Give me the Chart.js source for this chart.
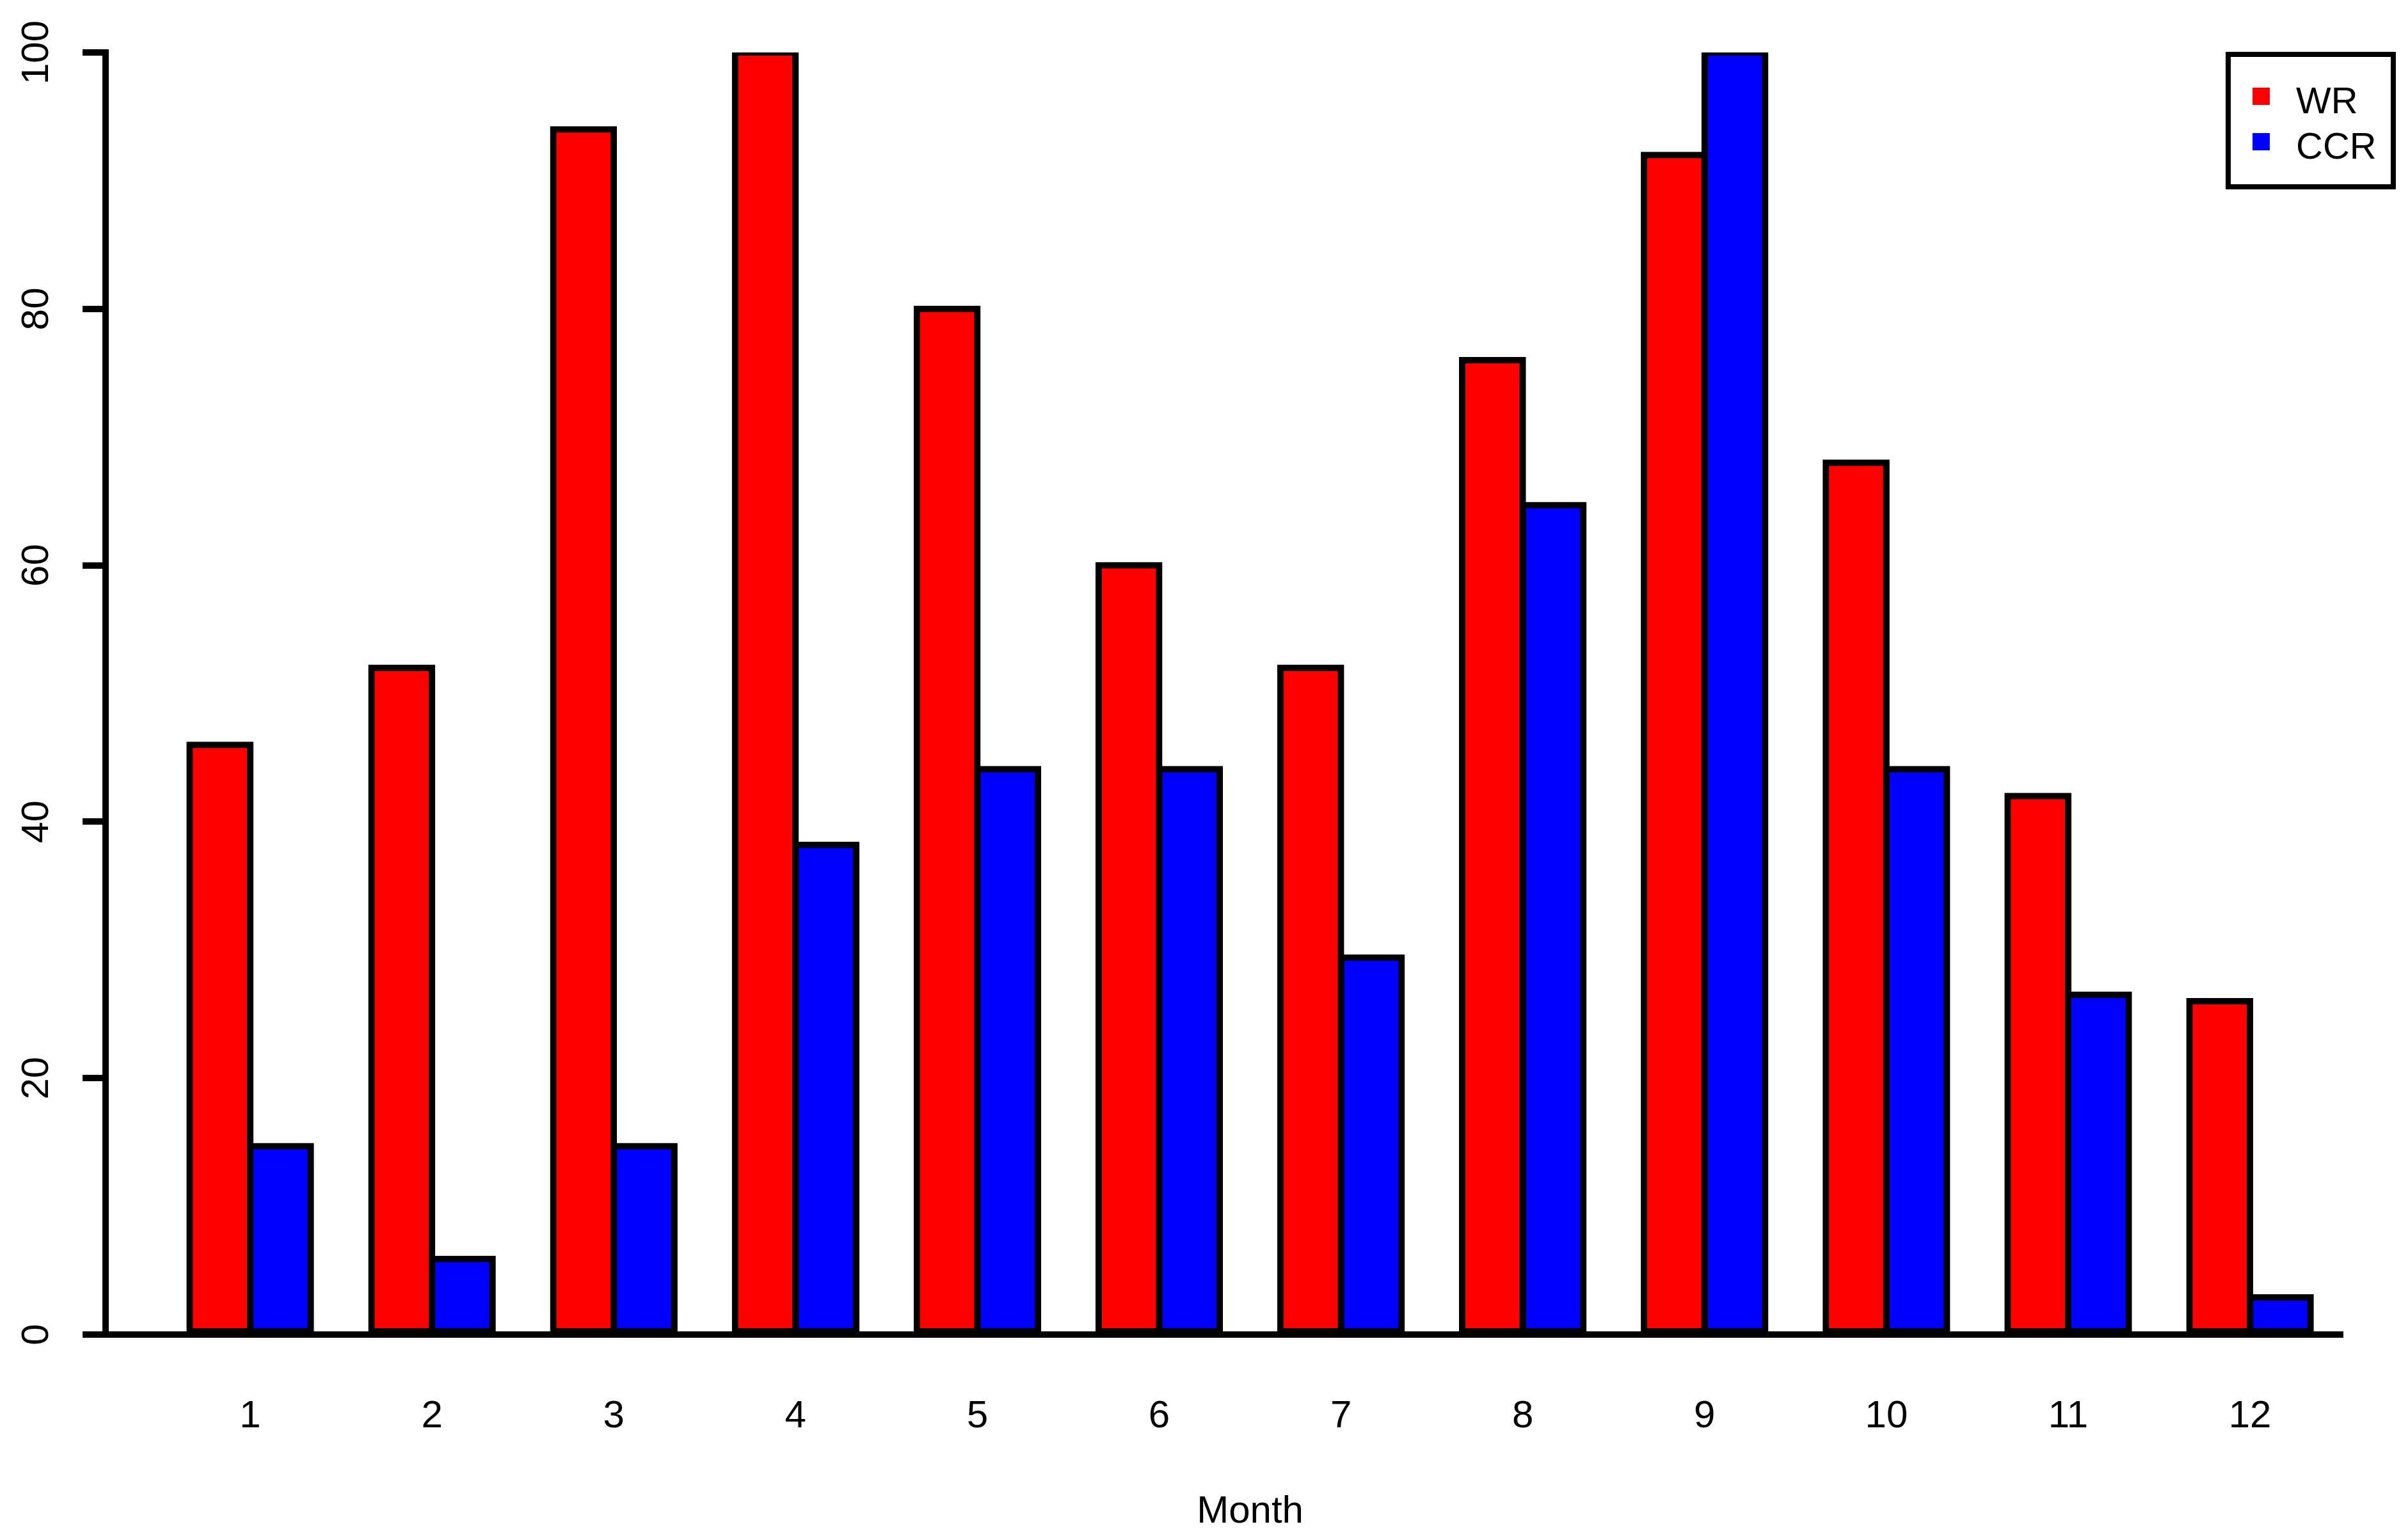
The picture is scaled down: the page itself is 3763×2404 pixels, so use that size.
<!DOCTYPE html>
<html><head><meta charset="utf-8">
<script src="https://cdn.jsdelivr.net/npm/chart.js@4.4.1/dist/chart.umd.min.js"></script>
<style>html,body{margin:0;padding:0;background:#fff;} canvas{display:block;}</style>
</head><body>
<canvas id="c" width="3763" height="2404" style="width:3763px;height:2404px"></canvas>
<script>
const months = [1,2,3,4,5,6,7,8,9,10,11,12];
const wr = [46,52,94,100,80,60,52,76,92,68,42,26];
const ccr = [14.7,5.9,14.7,38.2,44.1,44.1,29.4,64.7,100,44.1,26.5,2.9];
const yTicks = [0,20,40,60,80,100];
const seriesNames = ['WR','CCR'];
const seriesColors = ['#ff0000','#0000ff'];
const xTitle = 'Month';
const FONT = "'Liberation Sans', Arial, sans-serif";

const annot = {
  id: 'annot',
  afterDraw(chart) {
    const ctx = chart.ctx, xs = chart.scales.x, ca = chart.chartArea;
    ctx.save();
    ctx.fillStyle = '#000';
    ctx.font = '60px ' + FONT;
    ctx.textAlign = 'center';
    ctx.textBaseline = 'alphabetic';
    const mid = (months[0] + months[months.length - 1]) / 2;
    ctx.fillText(xTitle, xs.getPixelForValue(mid), ca.bottom + 294);
    // legend
    ctx.font = '58px ' + FONT;
    const bx = ca.right - 179, by = ca.top + 3, bw = 258, bh = 207;
    ctx.fillStyle = '#fff';
    ctx.fillRect(bx, by, bw, bh);
    ctx.lineWidth = 8; ctx.strokeStyle = '#000';
    ctx.strokeRect(bx, by, bw, bh);
    chart.data.datasets.forEach((ds, i) => {
      const cy = by + 65 + i * 71;
      ctx.fillStyle = ds.backgroundColor;
      ctx.fillRect(bx + 38, cy - 13, 27, 27);
      ctx.fillStyle = '#000';
      ctx.textAlign = 'left';
      ctx.textBaseline = 'alphabetic';
      ctx.fillText(ds.label, bx + 106, cy + 27);
    });
    ctx.restore();
  }
};

const mkDs = (i, data) => ({
  label: seriesNames[i], data,
  backgroundColor: seriesColors[i], borderColor: '#000', borderWidth: 10,
  borderSkipped: false, inflateAmount: 5,
  categoryPercentage: 2/3, barPercentage: 1
});

new Chart(document.getElementById('c'), {
  type: 'bar',
  data: { labels: months, datasets: [mkDs(0, wr), mkDs(1, ccr)] },
  options: {
    responsive: false, animation: false, devicePixelRatio: 1,
    layout: { padding: { left: 0, right: 102, top: 82, bottom: 0 } },
    plugins: { legend: { display: false }, tooltip: { enabled: false } },
    scales: {
      x: {
        type: 'linear', min: 0.2045, max: 12.51, offset: false,
        afterBuildTicks: s => { s.ticks = months.map(v => ({ value: v })); },
        afterFit: s => { s.height = 318; },
        grid: { display: false, drawTicks: false, offset: false },
        border: { display: true, color: '#000', width: 10, z: 1 },
        ticks: { font: { family: FONT, size: 60 }, color: '#000', padding: 92, maxRotation: 0, minRotation: 0, autoSkip: false, callback: v => String(v) }
      },
      y: {
        min: 0, max: 100,
        afterBuildTicks: s => { s.ticks = yTicks.map(v => ({ value: v })); },
        afterFit: s => { s.width = 165; },
        grid: { display: true, drawOnChartArea: false, drawTicks: true, tickLength: 36, lineWidth: 10, color: '#000' },
        border: { display: true, color: '#000', width: 10, z: 1 },
        ticks: { font: { family: FONT, size: 60 }, color: '#000', padding: 20, minRotation: 90, maxRotation: 90, crossAlign: 'center', autoSkip: false, callback: v => String(v) }
      }
    }
  },
  plugins: [annot]
});
</script>
</body></html>
